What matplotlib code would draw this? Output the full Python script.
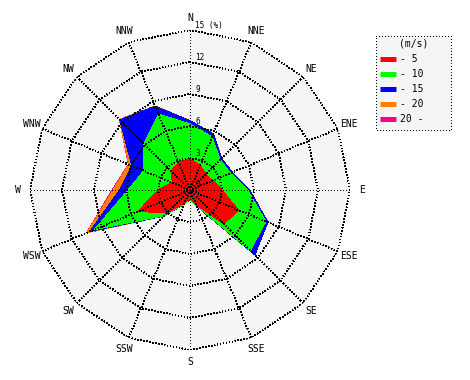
import numpy as np
import matplotlib
matplotlib.use('Agg')
import matplotlib.pyplot as plt
from matplotlib.transforms import offset_copy
from matplotlib.patches import Rectangle

# ---------------- data ----------------
directions = ['N', 'NNE', 'NE', 'ENE', 'E', 'ESE', 'SE', 'SSE',
              'S', 'SSW', 'SW', 'WSW', 'W', 'WNW', 'NW', 'NNW']
speed_labels = ['- 5', '- 10', '- 15', '- 20', '20 -']
speed_colors = ['#ff0000', '#00ff00', '#0000ff', '#ff8000', '#ff0080']

# frequency (%) per direction for each speed class
s_0_5 = [2.9, 2.5, 2.1, 2.3, 3.0, 4.9, 4.5, 1.5, 0.8, 1.3, 3.0, 5.3, 3.0, 1.8, 2.5, 2.8]
s_5_10 = [3.3, 2.9, 1.9, 1.8, 2.4, 2.8, 3.5, 0.1, 0.05, 0.1, 0.4, 4.4, 2.8, 2.9, 3.6, 4.9]
s_10_15 = [0.3, 0.3, 0.2, 0.2, 0.2, 0.2, 0.6, 0.05, 0.05, 0.05, 0.05, 0.45, 0.8, 1.2, 3.2, 0.8]
s_15_20 = [0, 0, 0, 0, 0, 0, 0, 0, 0, 0, 0, 0.3, 0.6, 0.3, 0.05, 0.02]
s_20_up = [0, 0, 0, 0, 0, 0, 0, 0, 0, 0, 0, 0.05, 0.1, 0.05, 0.01, 0]

ring_values = [3, 6, 9, 12, 15]
ring_labels = ['3', '6', '9', '12', '15 (%)']
r_max = 15

# ---------------- figure ----------------
MONO = 'DejaVu Sans Mono'
fig = plt.figure(figsize=(4.7, 3.8), dpi=100)
fig.patch.set_facecolor('white')

ax = fig.add_axes([30 / 470, 30 / 380, 320 / 470, 320 / 380], projection='polar')
ax.set_theta_zero_location('N')
ax.set_theta_direction(-1)
ax.set_ylim(0, r_max)
ax.axis('off')

n = len(directions)
theta = np.deg2rad(np.arange(n) * 360.0 / n)
tc = np.append(theta, theta[0])

def closed(v):
    v = np.asarray(v, dtype=float)
    return np.append(v, v[0])

# background polygon
ax.fill(tc, closed([r_max] * n), color='#f5f5f5', lw=0, zorder=0)

# stacked areas
classes = np.array([s_0_5, s_5_10, s_10_15, s_15_20, s_20_up])
cum = np.cumsum(classes, axis=0)
for i in reversed(range(len(classes))):
    ax.fill(tc, closed(cum[i]), color=speed_colors[i], lw=0, zorder=1,
            antialiased=False)

# polygonal grid (pixel dotted lines)
dot = (0, (1, 2.2))
grid_kw = dict(color='black', lw=0.72, ls=dot, zorder=3, antialiased=False)
for r in ring_values:
    ax.plot(tc, closed([r] * n), **grid_kw)
for t in theta:
    ax.plot([t, t], [0, r_max], **grid_kw)
ax.plot([0], [0], 'o', color='black', ms=2, mew=0, zorder=4)

# direction labels
for t, d in zip(theta, directions):
    ax.text(t, 16.1, d, ha='center', va='center', fontsize=7,
            family=MONO, clip_on=False)

# ring labels
trans = offset_copy(ax.transData, fig=fig, x=5, y=0, units='dots')
for r, lbl in zip(ring_values, ring_labels):
    ax.text(0, r, lbl, transform=trans, ha='left', va='bottom',
            fontsize=5.5, family=MONO, clip_on=False, zorder=5)
ax.text(0, 0, '0', transform=offset_copy(ax.transData, fig=fig, x=5, y=1, units='dots'),
        ha='left', va='bottom', fontsize=5.5, family=MONO, zorder=5)

# ---------------- legend ----------------
lax = fig.add_axes([375 / 470, (380 - 131) / 380, 76 / 470, 96 / 380])
lax.set_xlim(0, 76)
lax.set_ylim(96, 0)
lax.axis('off')
lax.add_patch(Rectangle((0.5, 0.5), 75, 95, facecolor='#f5f5f5', edgecolor='black',
                        lw=0.72, ls=dot, clip_on=False, antialiased=False))
lax.text(39, 9, '(m/s)', ha='center', va='center', fontsize=7, family=MONO)
for i, (lbl, col) in enumerate(zip(speed_labels, speed_colors)):
    y = 24 + 15 * i
    lax.plot([5, 21], [y, y], color=col, lw=3.6, solid_capstyle='butt')
    lax.text(25, y, lbl, ha='left', va='center', fontsize=7, family=MONO)

fig.savefig('out.png', dpi=100)
